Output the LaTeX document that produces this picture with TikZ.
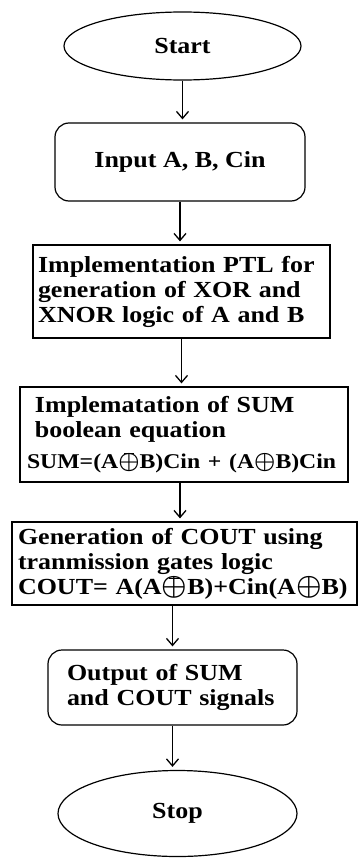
\documentclass[tikz,border=0pt]{standalone}
\usepackage{amsmath}
\usepackage{fontspec}
\setmainfont{Liberation Serif}[FakeStretch=1.13]
\usetikzlibrary{shapes.geometric,arrows.meta}
\newcommand{\xorop}{\raisebox{-0.5pt}{\scalebox{1.15}{$\boldsymbol{\oplus}$}}}
\newcommand{\xnorop}{\ooalign{\xorop\cr\hidewidth\rule[0.67em]{0.45em}{0.05em}\hidewidth\cr}}
\tikzset{
    term/.style={draw,ellipse,line width=1.2pt,inner sep=0pt,minimum width=#1},
    iobox/.style={draw,rectangle,rounded corners=14pt,line width=1.2pt},
    procbox/.style={draw,rectangle,line width=1.2pt},
    flow/.style={line width=1.3pt,-{Straight Barb[length=7pt,width=12pt]},shorten >=3pt}
}
\begin{document}
\begin{tikzpicture}[x=1pt,y=-1pt,font=\fontsize{23}{25}\selectfont\bfseries]
    \useasboundingbox (0,0) rectangle (358,859);
    \node[term=237pt,minimum height=68pt] (start) at (182.5,46) {Start};
    \node[iobox,minimum width=250pt,minimum height=78pt] (input) at (180,162) {Input A, B, Cin};
    \node[procbox,minimum width=297pt,minimum height=93pt,inner xsep=5pt,text width=287pt,align=left] (ptl) at (181.5,291.5)
        {Implementation PTL for\\generation of XOR and\\XNOR logic of A and B};
    \node[procbox,minimum width=328pt,minimum height=95pt,inner xsep=7pt,text width=314pt,align=left] (sum) at (184,434.5)
        {\hspace{8pt}Implematation of SUM\\\hspace{8pt}boolean equation\\[6pt]
        \makebox[0pt][l]{\fontsize{21}{24}\selectfont SUM=(A\xnorop B)Cin + (A\xorop B)Cin}};
    \node[procbox,minimum width=345pt,minimum height=83pt,inner xsep=6pt,text width=333pt,align=left] (cout) at (184.5,563.5)
        {Generation of COUT using\\tranmission gates logic\\\makebox[0pt][l]{COUT= A(A\xnorop B)+Cin(A\xorop B)}};
    \node[iobox,minimum width=249pt,minimum height=75pt,inner xsep=19pt,text width=211pt,align=left] (output) at (172.5,687.5)
        {Output of SUM\\and COUT signals};
    \node[term=239pt,minimum height=86pt] (stop) at (177.5,813.5) {Stop};
    \draw[flow] (start.south) -- (start.south |- input.north);
    \draw[flow] (input.south) -- (input.south |- ptl.north);
    \draw[flow] (ptl.south) -- (ptl.south |- sum.north);
    \draw[flow] (sum.south -| input.south) -- (input.south |- cout.north);
    \draw[flow] (output.north |- cout.south) -- (output.north);
    \draw[flow] (output.south) -- (output.south |- stop.north);
\end{tikzpicture}
\end{document}
